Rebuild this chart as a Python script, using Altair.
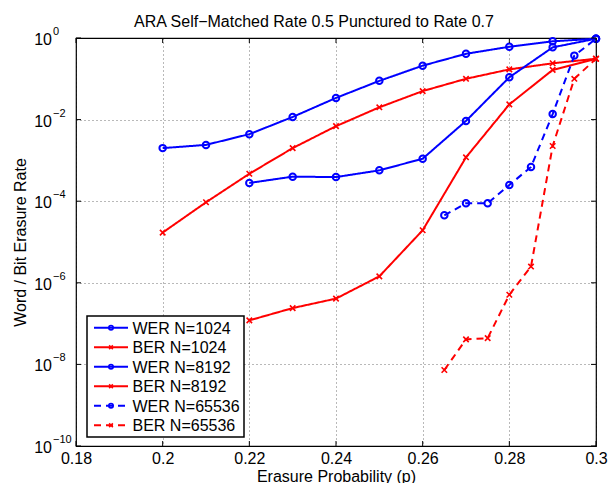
import altair as alt
import pandas as pd

# Erasure probabilities swept for each block length
p_1024 = [0.20, 0.21, 0.22, 0.23, 0.24, 0.25, 0.26, 0.27, 0.28, 0.29, 0.30]
p_8192 = [0.22, 0.23, 0.24, 0.25, 0.26, 0.27, 0.28, 0.29, 0.30]
p_65536 = [0.265, 0.27, 0.275, 0.28, 0.285, 0.29, 0.295, 0.30]

# Word and bit erasure rates
wer_1024 = [2.0e-3, 2.4e-3, 4.4e-3, 1.16e-2, 3.4e-2, 8.9e-2, 0.21, 0.41, 0.61, 0.83, 0.96]
ber_1024 = [1.7e-5, 9.4e-5, 4.7e-4, 2.0e-3, 6.9e-3, 2.0e-2, 5.0e-2, 0.10, 0.17, 0.24, 0.31]
wer_8192 = [2.8e-4, 4.0e-4, 3.9e-4, 5.7e-4, 1.1e-3, 9.3e-3, 0.109, 0.59, 0.96]
ber_8192 = [1.2e-7, 2.4e-7, 4.1e-7, 1.44e-6, 1.94e-5, 1.19e-3, 2.36e-2, 0.165, 0.31]
wer_65536 = [4.5e-5, 8.9e-5, 8.9e-5, 2.5e-4, 6.9e-4, 1.37e-2, 0.37, 0.96]
ber_65536 = [7.3e-9, 4.1e-8, 4.4e-8, 5.1e-7, 2.5e-6, 2.25e-3, 0.10, 0.31]

series_names = ["WER N=1024", "BER N=1024", "WER N=8192",
                "BER N=8192", "WER N=65536", "BER N=65536"]
series_colors = ["#0000ff", "#ff0000", "#0000ff", "#ff0000", "#0000ff", "#ff0000"]
series_styles = ["solid", "solid", "solid", "solid", "dashed", "dashed"]
series_kind = ["WER", "BER", "WER", "BER", "WER", "BER"]

x_ticks = [0.18, 0.20, 0.22, 0.24, 0.26, 0.28, 0.30]
x_tick_labels = ["0.18", "0.2", "0.22", "0.24", "0.26", "0.28", "0.3"]
y_exponents = [0, -2, -4, -6, -8, -10]

FONT = "Liberation Sans"
W, H = 520, 408

# Long-format table of all curves
xs = [p_1024, p_1024, p_8192, p_8192, p_65536, p_65536]
ys = [wer_1024, ber_1024, wer_8192, ber_8192, wer_65536, ber_65536]
rows = []
for name, kind, style, px, py in zip(series_names, series_kind, series_styles, xs, ys):
    for a, b in zip(px, py):
        rows.append({"p": a, "rate": b, "series": name, "kind": kind, "style": style})
df = pd.DataFrame(rows)

x_scale = alt.Scale(domain=[0.18, 0.30], nice=False, zero=False)
y_scale = alt.Scale(type="log", domain=[1e-10, 1], nice=False)
color_scale = alt.Scale(domain=series_names, range=series_colors)
dash_scale = alt.Scale(domain=["solid", "dashed"], range=[[1, 0], [7, 5]])

vals_js = "[" + ",".join(repr(v) for v in x_ticks) + "]"
labs_js = "[" + ",".join("'" + s + "'" for s in x_tick_labels) + "]"

x_axis = alt.Axis(values=x_ticks, labelExpr=f"{labs_js}[indexof({vals_js}, datum.value)]",
                  grid=True, gridDash=[1, 3], gridColor="#000", gridOpacity=0.55,
                  ticks=False, domain=False, labelFont=FONT, labelFontSize=16,
                  labelColor="#000", labelPadding=4, labelFlush=False,
                  title="Erasure Probability (p)", titleFont=FONT, titleFontSize=16,
                  titleFontWeight="normal", titleColor="#000", titlePadding=2)
y_axis = alt.Axis(values=[10.0 ** e for e in y_exponents], labels=False, ticks=False,
                  domain=False, grid=True, gridDash=[1, 3], gridColor="#000",
                  gridOpacity=0.55, title="Word / Bit Erasure Rate", titleFont=FONT,
                  titleFontSize=16, titleFontWeight="normal", titleColor="#000",
                  titlePadding=48)


def X(field):
    return alt.X(field, scale=x_scale, axis=x_axis)


def Y(field):
    return alt.Y(field, scale=y_scale, axis=y_axis)


base = alt.Chart(df)
lines = base.mark_line(strokeWidth=2).encode(
    x=X("p:Q"), y=Y("rate:Q"),
    color=alt.Color("series:N", scale=color_scale, legend=None),
    strokeDash=alt.StrokeDash("style:N", scale=dash_scale, legend=None),
    detail="series:N",
)
circles = base.transform_filter(alt.datum.kind == "WER").mark_point(
    shape="circle", filled=False, size=42, strokeWidth=2, opacity=1
).encode(x=X("p:Q"), y=Y("rate:Q"),
         color=alt.Color("series:N", scale=color_scale, legend=None))
X_PATH = "M-1,-1L1,1M-1,1L1,-1"
crosses = base.transform_filter(alt.datum.kind == "BER").mark_point(
    shape=X_PATH, filled=False, size=30, strokeWidth=1.6, opacity=1
).encode(x=X("p:Q"), y=Y("rate:Q"),
         color=alt.Color("series:N", scale=color_scale, legend=None))

# Inward tick marks on all four sides of the frame
xt = pd.DataFrame({"p": x_ticks})
yt = pd.DataFrame({"rate": [10.0 ** e for e in y_exponents]})
tick_style = dict(color="#000", strokeWidth=1)
ticks = [
    alt.Chart(xt).mark_rule(**tick_style).encode(
        x=X("p:Q"), y=alt.value(H), y2=alt.value(H - 5)),
    alt.Chart(xt).mark_rule(**tick_style).encode(
        x=X("p:Q"), y=alt.value(0), y2=alt.value(5)),
    alt.Chart(yt).mark_rule(**tick_style).encode(
        y=Y("rate:Q"), x=alt.value(0), x2=alt.value(5)),
    alt.Chart(yt).mark_rule(**tick_style).encode(
        y=Y("rate:Q"), x=alt.value(W), x2=alt.value(W - 5)),
]

# Power-of-ten tick labels with raised exponents
ylab = pd.DataFrame({
    "rate": [10.0 ** e for e in y_exponents],
    "base": ["10"] * len(y_exponents),
    "exp": [str(e).replace("-", "\u2212") for e in y_exponents],
})
ylab_base = alt.Chart(ylab).mark_text(
    align="right", baseline="middle", font=FONT, fontSize=16, color="#000", dy=2
).encode(x=alt.value(-24), y=Y("rate:Q"), text="base:N")
ylab_exp = alt.Chart(ylab).mark_text(
    align="left", baseline="middle", font=FONT, fontSize=11, color="#000", dy=-6
).encode(x=alt.value(-23), y=Y("rate:Q"), text="exp:N")

# Legend box drawn in pixel space inside the lower-left corner
lx0, lx1, ly0, ly1 = 11, 168, 278, 399
row0, row_step = 289.7, 19.5
legend_rows = []
for i, (lab, col, sty, knd) in enumerate(zip(series_names, series_colors,
                                             series_styles, series_kind)):
    yy = row0 + i * row_step
    legend_rows.append({"label": lab, "color": col, "style": sty, "kind": knd,
                        "ly": yy})
leg = pd.DataFrame(legend_rows)

legend_box = alt.Chart(pd.DataFrame({"a": [0]})).mark_rect(
    fill="#fff", stroke="#000", strokeWidth=1.5
).encode(x=alt.value(lx0), x2=alt.value(lx1), y=alt.value(ly0), y2=alt.value(ly1))


def leg_layer(mark, filt=None, **enc):
    c = alt.Chart(leg)
    if filt is not None:
        c = c.transform_filter(alt.datum.kind == filt)
    return mark(c).encode(y=alt.Y("ly:Q", scale=None, axis=None), **enc)


legend_lines = leg_layer(
    lambda c: c.mark_rule(strokeWidth=2),
    x=alt.value(18), x2=alt.value(52),
    color=alt.Color("color:N", scale=None),
    strokeDash=alt.StrokeDash("style:N", scale=dash_scale, legend=None),
)
legend_circ = leg_layer(
    lambda c: c.mark_point(shape="circle", filled=False, size=18, strokeWidth=1.8,
                           opacity=1),
    "WER", x=alt.value(35), color=alt.Color("color:N", scale=None))
legend_x = leg_layer(
    lambda c: c.mark_point(shape=X_PATH, filled=False, size=14, strokeWidth=1.6,
                           opacity=1),
    "BER", x=alt.value(35), color=alt.Color("color:N", scale=None))
legend_text = leg_layer(
    lambda c: c.mark_text(align="left", baseline="middle", font=FONT, fontSize=16,
                          color="#000", dy=1),
    x=alt.value(56.5), text="label:N")

chart = alt.layer(
    lines, circles, crosses, *ticks, ylab_base, ylab_exp,
    legend_box, legend_lines, legend_circ, legend_x, legend_text,
).resolve_scale(color="independent").properties(
    width=W, height=H,
    autosize=alt.AutoSizeParams(type="none"),
    padding={"left": 76, "top": 38, "right": 20, "bottom": 37},
    title=alt.TitleParams("ARA Self\u2212Matched Rate 0.5 Punctured to Rate 0.7",
                          font=FONT, fontSize=16, fontWeight="normal", color="#000",
                          frame="group", offset=-4, dx=-22),
).configure_view(stroke="#000", strokeWidth=1.2)

chart.save("out.html", embed_options={"renderer": "svg", "actions": False})
